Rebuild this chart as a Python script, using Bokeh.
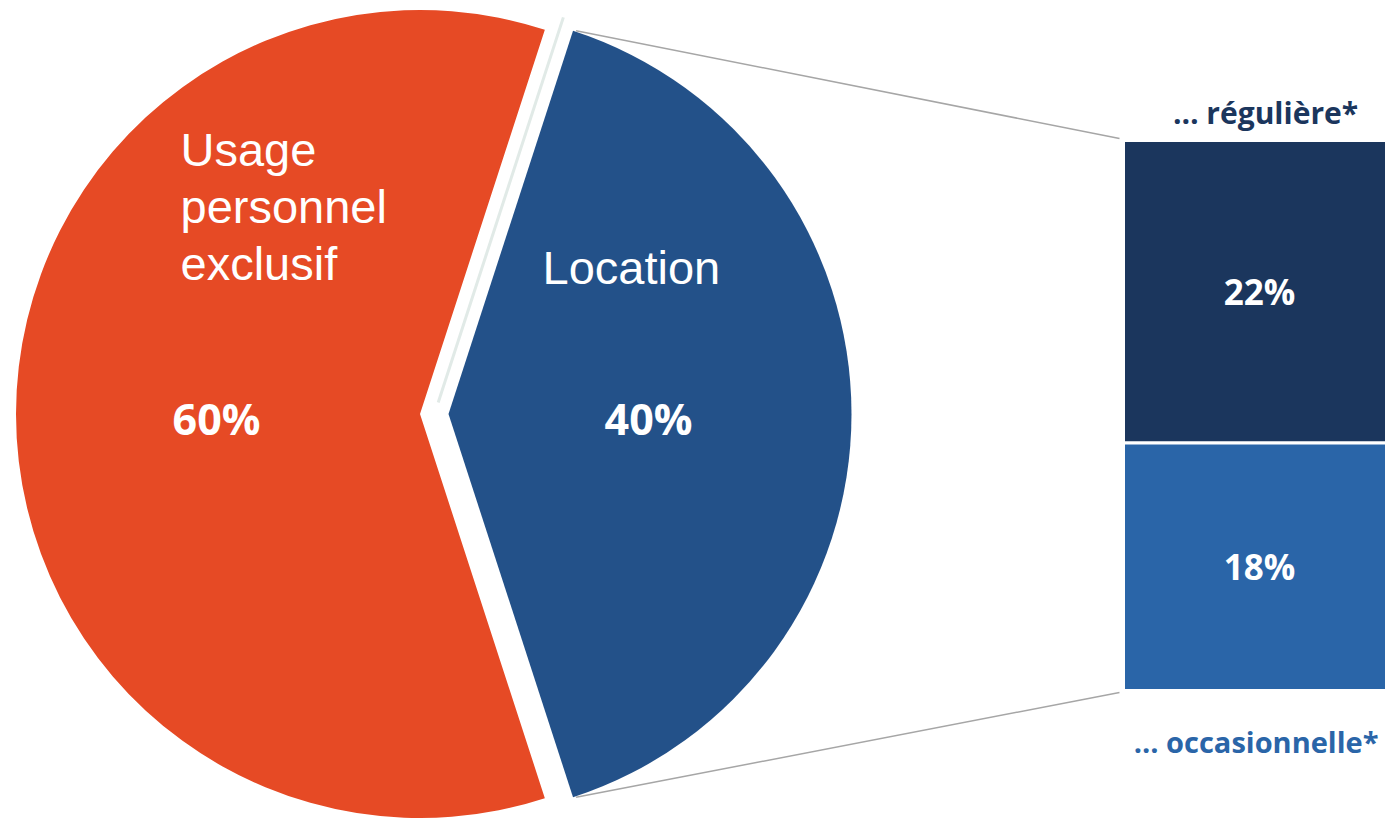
import math

from bokeh.core.properties import value
from bokeh.embed import file_html
from bokeh.models import Range1d
from bokeh.plotting import figure
from bokeh.resources import INLINE

# --- data -------------------------------------------------------------
segments = ["Usage personnel exclusif", "Location"]
segment_lines = [["Usage", "personnel", "exclusif"], ["Location"]]
shares = [60, 40]
location_types = ["… régulière*", "… occasionnelle*"]
location_shares = [22, 18]

# --- layout -----------------------------------------------------------
W, H = 1385, 818


def Y(py):
    """Screen row to data y (data y grows upward)."""
    return H - py


ORANGE = "#E64A25"
BLUE = "#235189"
NAVY = "#1B365D"
LIGHT_BLUE = "#2A65A8"
GREY = "#A6A6A6"

cx, cy = 419.5, Y(413.5)      # centre of the full pie
radius = 404
explode = 28.5                 # shift of the "Location" slice to the right

total = sum(shares)
half_span = math.radians(shares[1] / total * 360 / 2)

p = figure(width=W, height=H, x_range=Range1d(0, W), y_range=Range1d(0, H),
           output_backend="svg", toolbar_location=None, min_border=0)
p.axis.visible = False
p.grid.visible = False
p.outline_line_color = None
p.background_fill_color = "white"
p.border_fill_color = "white"

# pie slices
p.wedge(x=[cx], y=[cy], radius=radius, start_angle=half_span,
        end_angle=2 * math.pi - half_span, fill_color=ORANGE, line_color=None)
bx = cx + explode
p.wedge(x=[bx], y=[cy], radius=radius - 1, start_angle=-half_span,
        end_angle=half_span, fill_color=BLUE, line_color=None)

# faint seam left in the gap between the slices
sx = cx + 14.5
p.line(x=[sx + 12 * math.cos(half_span), sx + 417 * math.cos(half_span)],
       y=[cy + 12 * math.sin(half_span), cy + 417 * math.sin(half_span)],
       line_color="#E1EAE7", line_width=3)

# stacked bar breaking down the "Location" slice
bar_left, bar_right = 1123, 1400
bar_top, bar_bottom = Y(140), Y(690)
sub_total = sum(location_shares)
unit = (bar_top - bar_bottom) / sub_total
tops, bottoms = [], []
level = bar_top
for v in location_shares:
    tops.append(level)
    bottoms.append(level - v * unit)
    level -= v * unit
p.quad(left=[bar_left] * 2, right=[bar_right] * 2, top=tops, bottom=bottoms,
       fill_color=[NAVY, LIGHT_BLUE], line_color="white", line_width=3)

# connector lines from the slice corners to the bar
r_b = radius - 1
corner_top = (bx + r_b * math.cos(half_span), cy + r_b * math.sin(half_span))
corner_bot = (bx + r_b * math.cos(half_span), cy - r_b * math.sin(half_span))
p.segment(x0=[corner_top[0] + 3, corner_bot[0] + 3],
          y0=[corner_top[1], corner_bot[1]],
          x1=[bar_left - 4, bar_left - 4],
          y1=[bar_top + 2, bar_bottom - 2],
          line_color=GREY, line_width=1.5)

# slice names
name_font = value("Liberation Sans")
for i, line in enumerate(segment_lines[0]):
    p.text(x=[180], y=[Y(149) - i * 57], text=[line], text_font=name_font,
           text_font_size="47px", text_color="white",
           text_align="left", text_baseline="alphabetic")
p.text(x=[542], y=[Y(267)], text=[segment_lines[1][0]], text_font=name_font,
       text_font_size="47px", text_color="white",
       text_align="left", text_baseline="alphabetic")

# slice percentages
bold = value("Open Sans")
p.text(x=[216, 648], y=[Y(418), Y(418)], text=[f"{v}%" for v in shares],
       text_font=bold, text_font_style="bold", text_font_size="43px",
       text_color="white", text_align="center", text_baseline="middle")

# bar percentages
mids = [(t + b) / 2 for t, b in zip(tops, bottoms)]
p.text(x=[1259] * 2, y=mids, text=[f"{v}%" for v in location_shares],
       text_font=bold, text_font_style="bold", text_font_size="35px",
       text_color="white", text_align="center", text_baseline="middle")

# bar segment names
p.text(x=[1265], y=[Y(112)], text=[location_types[0]], text_font=bold,
       text_font_style="bold", text_font_size="30px", text_color=NAVY,
       text_align="center", text_baseline="alphabetic")
p.text(x=[1378], y=[Y(741)], text=[location_types[1]], text_font=bold,
       text_font_style="bold", text_font_size="29px", text_color=LIGHT_BLUE,
       text_align="right", text_baseline="alphabetic")

open("out.html", "w").write(file_html(p, INLINE))
